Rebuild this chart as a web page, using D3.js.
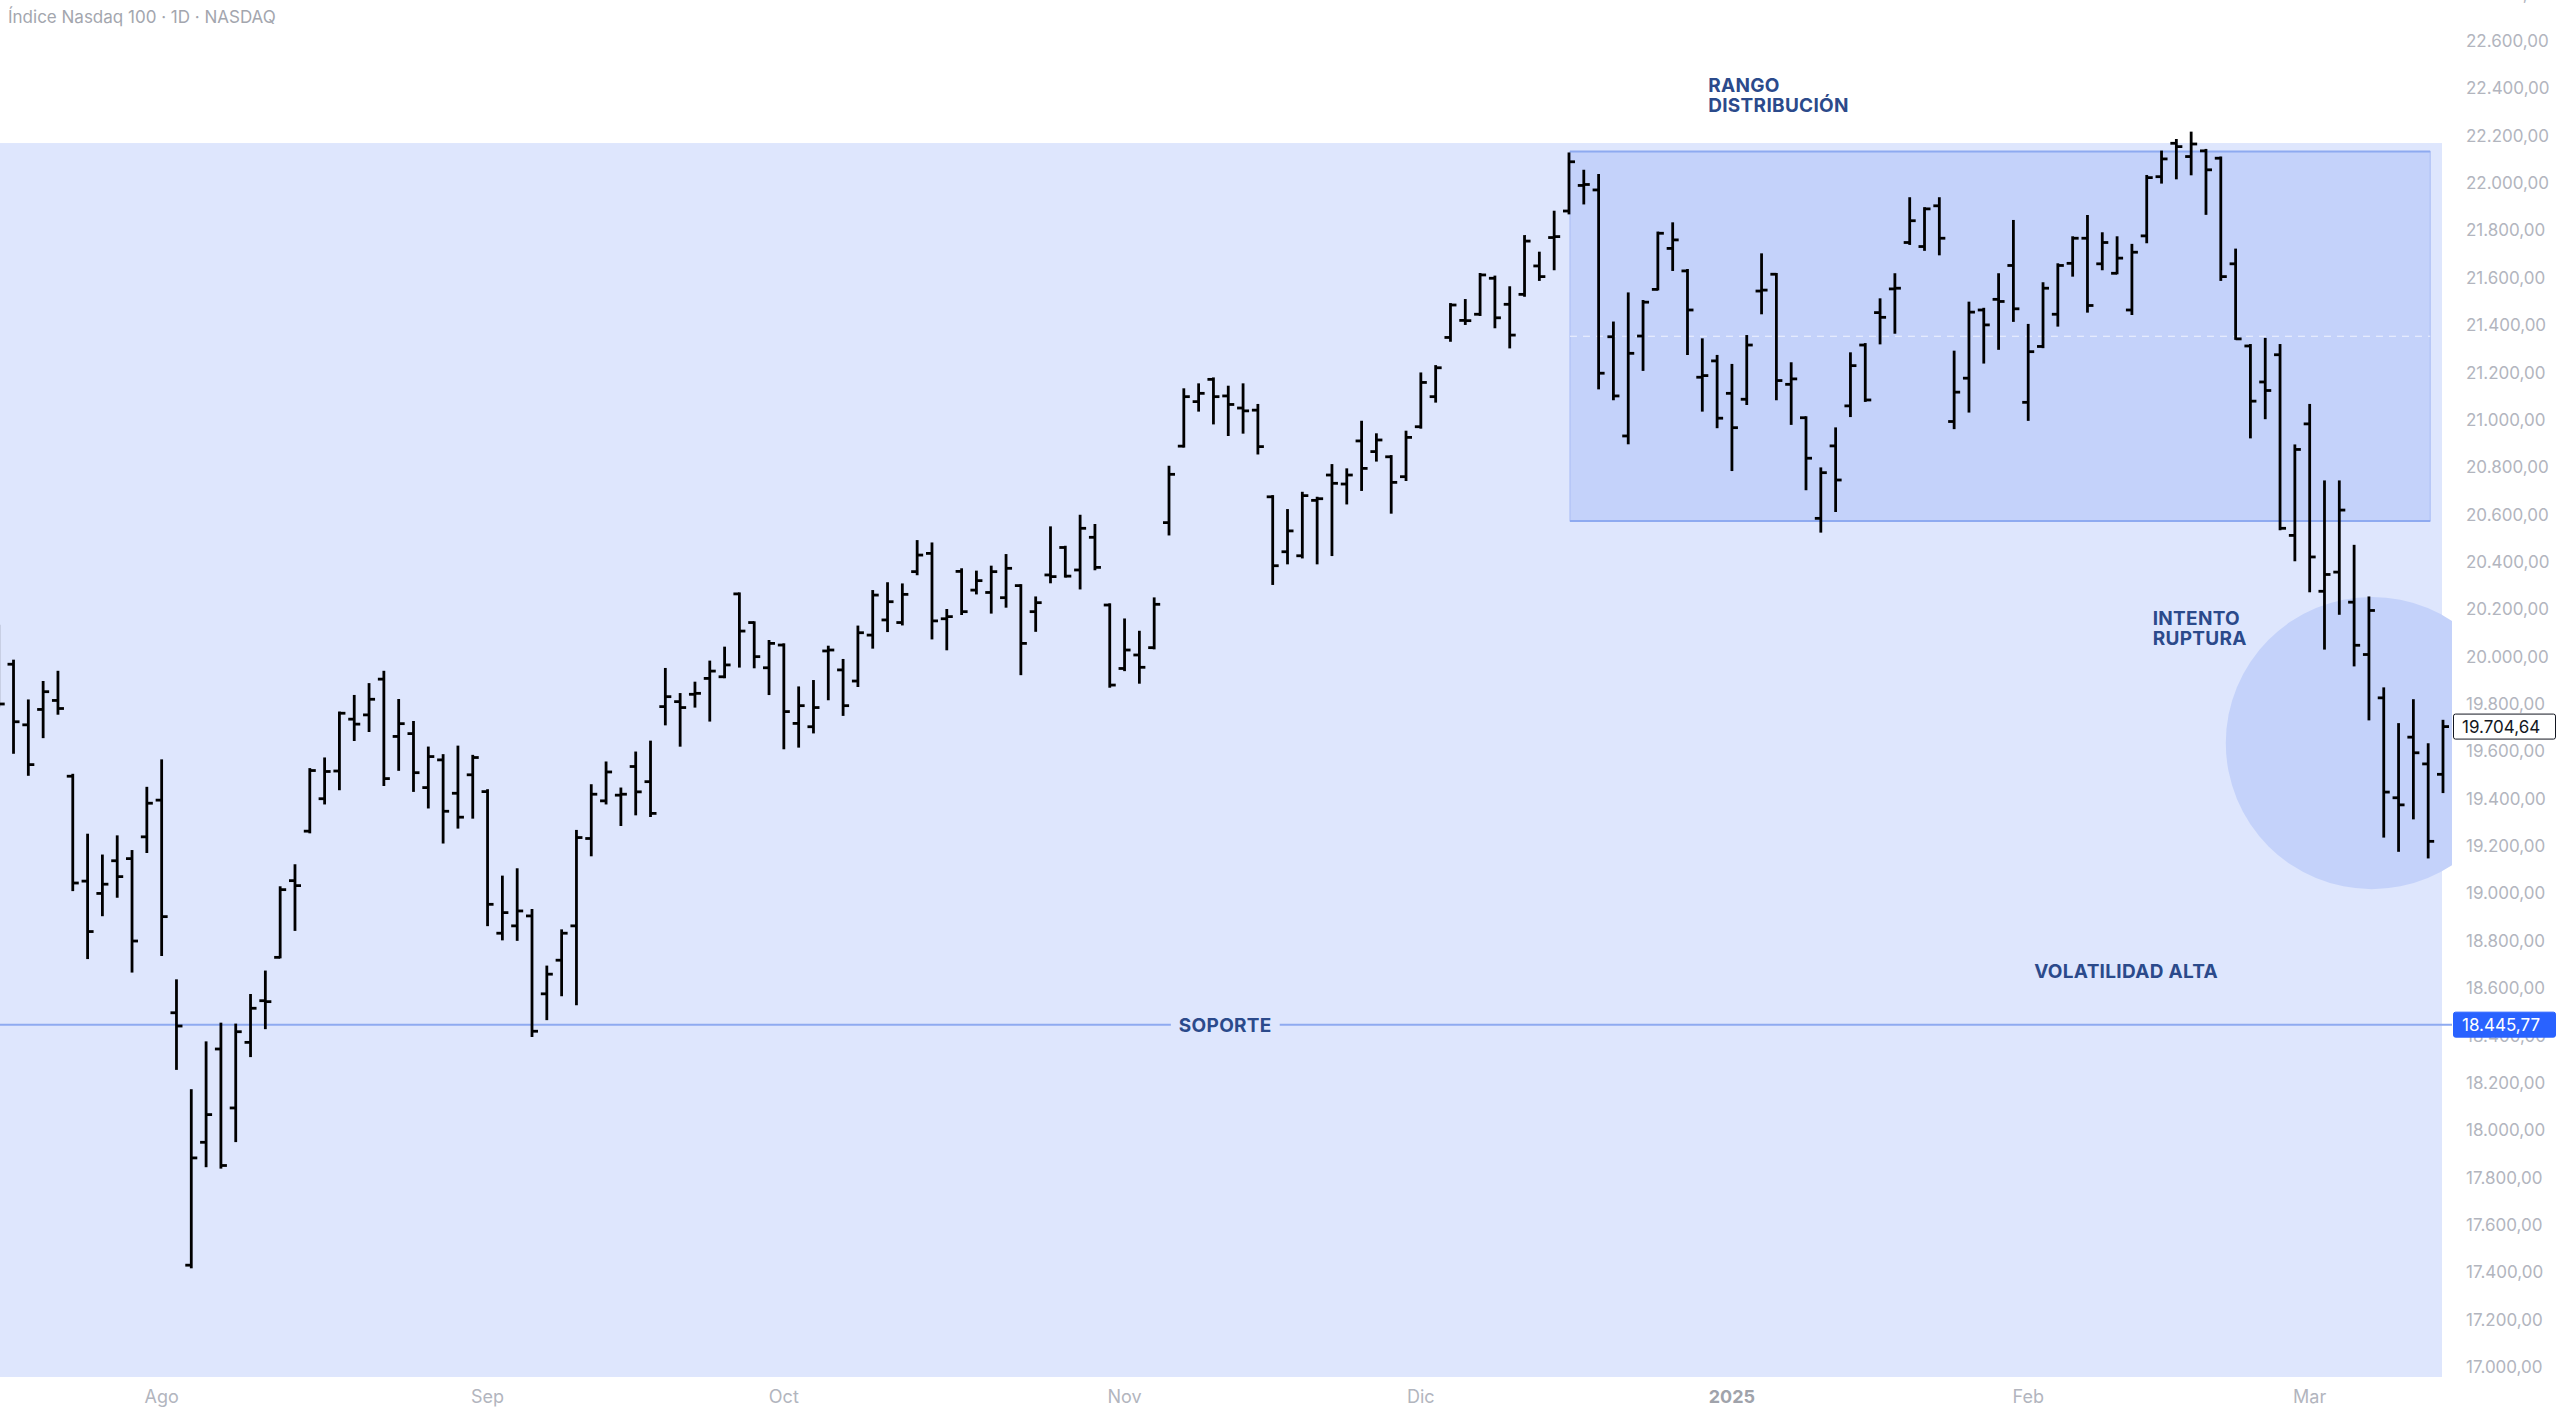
<!DOCTYPE html>
<html>
<head>
<meta charset="utf-8">
<script src="https://cdn.jsdelivr.net/npm/d3@7"></script>
<style>
  html, body { margin: 0; padding: 0; background: #fff; }
  svg { display: block; font-family: Inter, "Noto Sans", sans-serif; }
</style>
</head>
<body>
<div id="chart"></div>
<script>
// Daily sessions shown on the chart (one OHLC bar each)
const dates = [
  "2024-07-17","2024-07-18","2024-07-19","2024-07-22","2024-07-23","2024-07-24","2024-07-25","2024-07-26","2024-07-29","2024-07-30","2024-07-31",
  "2024-08-01","2024-08-02","2024-08-05","2024-08-06","2024-08-07","2024-08-08","2024-08-09","2024-08-12","2024-08-13","2024-08-14","2024-08-15","2024-08-16","2024-08-19","2024-08-20","2024-08-21","2024-08-22","2024-08-23","2024-08-26","2024-08-27","2024-08-28","2024-08-29","2024-08-30",
  "2024-09-03","2024-09-04","2024-09-05","2024-09-06","2024-09-09","2024-09-10","2024-09-11","2024-09-12","2024-09-13","2024-09-16","2024-09-17","2024-09-18","2024-09-19","2024-09-20","2024-09-23","2024-09-24","2024-09-25","2024-09-26","2024-09-27","2024-09-30",
  "2024-10-01","2024-10-02","2024-10-03","2024-10-04","2024-10-07","2024-10-08","2024-10-09","2024-10-10","2024-10-11","2024-10-14","2024-10-15","2024-10-16","2024-10-17","2024-10-18","2024-10-21","2024-10-22","2024-10-23","2024-10-24","2024-10-25","2024-10-28","2024-10-29","2024-10-30","2024-10-31",
  "2024-11-01","2024-11-04","2024-11-05","2024-11-06","2024-11-07","2024-11-08","2024-11-11","2024-11-12","2024-11-13","2024-11-14","2024-11-15","2024-11-18","2024-11-19","2024-11-20","2024-11-21","2024-11-22","2024-11-25","2024-11-26","2024-11-27","2024-11-29",
  "2024-12-02","2024-12-03","2024-12-04","2024-12-05","2024-12-06","2024-12-09","2024-12-10","2024-12-11","2024-12-12","2024-12-13","2024-12-16","2024-12-17","2024-12-18","2024-12-19","2024-12-20","2024-12-23","2024-12-24","2024-12-26","2024-12-27","2024-12-30","2024-12-31",
  "2025-01-02","2025-01-03","2025-01-06","2025-01-07","2025-01-08","2025-01-10","2025-01-13","2025-01-14","2025-01-15","2025-01-16","2025-01-17","2025-01-21","2025-01-22","2025-01-23","2025-01-24","2025-01-27","2025-01-28","2025-01-29","2025-01-30","2025-01-31",
  "2025-02-03","2025-02-04","2025-02-05","2025-02-06","2025-02-07","2025-02-10","2025-02-11","2025-02-12","2025-02-13","2025-02-14","2025-02-18","2025-02-19","2025-02-20","2025-02-21","2025-02-24","2025-02-25","2025-02-26","2025-02-27","2025-02-28",
  "2025-03-03","2025-03-04","2025-03-05","2025-03-06","2025-03-07","2025-03-10","2025-03-11","2025-03-12","2025-03-13","2025-03-14"
];

const open = [
  20110,19968,19712,19777,19815,19495,19052,19000,19138,19147,19239,
  19394,18496,17430,17949,18343,18094,18371,18547,18730,19054,19263,19400,19517,19736,19754,19905,19663,19675,19447,19564,19423,19501,
  19430,18832,18863,18905,18576,18718,18863,19232,19391,19415,19536,19472,19789,19810,19841,19908,19915,20265,20144,19953,
  20049,19718,19704,20024,19944,19897,20091,20155,20144,20359,20436,20160,20360,20281,20271,20249,20300,20190,20345,20461,20366,20504,20218,
  19950,20007,20038,20566,20889,21077,21171,21101,21050,21041,20675,20443,20426,20660,20767,20729,20911,20866,20844,20760,
  20971,21098,21348,21420,21446,21598,21488,21530,21650,21770,21882,21990,21971,21351,20932,21354,21551,21724,21629,21180,21249,
  21112,21087,21544,21615,21150,21009,20584,20890,21059,21316,21453,21553,21749,21732,21904,20993,21176,21464,21509,21652,
  21074,21310,21446,21661,21767,21659,21619,21464,21777,22027,22168,22112,22136,22105,21659,21312,21160,21275,20512,
  20983,20276,20357,20230,20009,19826,19404,19660,19547,19503
];

const high = [
  20130,19983,19815,19893,19936,19501,19248,19160,19241,19179,19446,
  19562,18633,18169,18371,18450,18446,18571,18670,19026,19119,19525,19570,19764,19834,19884,19936,19817,19724,19616,19584,19620,19581,
  19436,19071,19102,18930,18691,18844,19264,19457,19553,19443,19595,19641,19948,19842,19890,19979,20038,20267,20145,20066,
  20052,19870,19897,20042,19986,20127,20277,20310,20305,20488,20478,20197,20369,20359,20380,20429,20302,20250,20546,20464,20595,20556,20221,
  20157,20105,20246,20802,21129,21150,21175,21140,21150,21063,20678,20619,20692,20671,20809,20791,20992,20939,20847,20950,
  21196,21227,21489,21506,21616,21605,21560,21776,21706,21879,22125,22052,22034,21411,21534,21502,21791,21830,21633,21340,21270,
  21232,21354,21699,21616,21239,21011,20795,20964,21281,21320,21509,21615,21936,21894,21936,21288,21495,21469,21615,21840,
  21401,21577,21657,21771,21861,21788,21771,21739,22030,22133,22182,22213,22140,22108,21719,21316,21342,21316,20892,
  21063,20740,20740,20468,20250,19866,19715,19816,19630,19729
];

const low = [
  19790,19594,19501,19660,19759,19014,18727,18908,18986,18670,19175,
  18740,18259,17421,17848,17842,17954,18313,18431,18730,18846,19258,19380,19440,19648,19686,19458,19522,19433,19363,19215,19278,19320,
  18866,18806,18804,18398,18469,18570,18532,19161,19380,19289,19334,19327,19714,19624,19789,19730,19913,19958,19955,19842,
  19613,19620,19680,19820,19754,19876,20038,20108,20136,20348,20077,20031,20180,20267,20186,20211,19926,20109,20314,20338,20288,20369,19873,
  19943,19890,20035,20516,20887,21039,20985,20936,20946,20858,20307,20394,20419,20394,20429,20647,20704,20828,20608,20746,
  20967,21077,21334,21405,21443,21391,21306,21524,21591,21636,21872,21914,21133,21087,20901,21211,21551,21633,21278,21039,20969,
  20788,21067,21450,21087,20983,20707,20528,20615,21016,21080,21323,21368,21743,21718,21699,20965,21035,21242,21300,21418,
  21000,21307,21398,21609,21457,21636,21619,21447,21750,22002,22020,22037,21870,21591,21342,20926,21007,20538,20407,
  20276,20034,20181,19963,19735,19240,19180,19317,19152,19428
];

const close = [
  19800,19725,19544,19852,19781,19044,18839,19039,19071,18799,19381,
  18902,18440,17883,18066,17851,18416,18515,18543,19016,19033,19519,19515,19761,19715,19820,19485,19717,19510,19578,19347,19322,19574,
  18954,18919,18926,18418,18659,18832,19236,19419,19513,19419,19429,19338,19831,19785,19845,19939,19965,20108,20000,20056,
  19768,19793,19785,20028,19793,20101,20260,20232,20263,20429,20151,20169,20190,20321,20359,20373,20056,20228,20338,20340,20542,20377,19880,
  20028,19955,20221,20770,21098,21112,21098,21065,21038,20887,20384,20531,20680,20667,20732,20767,20795,20915,20736,20926,
  21158,21220,21485,21419,21612,21431,21358,21755,21605,21774,22090,21994,21197,21101,21281,21497,21788,21760,21464,21187,21007,
  20967,21316,21548,21166,21173,20838,20777,20746,21229,21084,21433,21556,21841,21891,21767,21117,21455,21401,21500,21469,
  21288,21556,21652,21767,21483,21749,21683,21708,22023,22102,22154,22165,22056,21605,21342,21079,21124,20542,20875,
  20421,20347,20619,20048,20195,19428,19374,19594,19220,19704.64
];

// Price axis
const priceTicks = [17000,17200,17400,17600,17800,18000,18200,18400,18600,18800,19000,19200,19400,19600,19800,20000,20200,20400,20600,20800,21000,21200,21400,21600,21800,22000,22200,22400,22600,22800];
const priceMin = 17000;
const priceMax = 22600;

// Time axis
const monthTickDates  = ["2024-08-01","2024-09-03","2024-10-01","2024-11-01","2024-12-02","2025-01-02","2025-02-03","2025-03-03"];
const monthTickLabels = ["Ago","Sep","Oct","Nov","Dic","2025","Feb","Mar"];
const monthTickBold   = [false,false,false,false,false,true,false,false];

// Drawings
const supportLevel = 18445.77;
const lastPrice = 19704.64;
const rangeTop = 22133;
const rangeBottom = 20573;
const rangeStartDate = "2024-12-16";
const rangeEndDate = "2025-03-13";
const zoneTop = 22169;
const circleDate = "2025-03-07";
const circlePrice = 19635;
const circleRadiusPts = 617;

const annotationLines  = [["RANGO","DISTRIBUCIÓN"], ["INTENTO","RUPTURA"], ["VOLATILIDAD ALTA"]];
const annotationDates  = ["2024-12-30", "2025-02-13", "2025-02-03"];
const annotationPrices = [22385, 20134, 18643];
const supportLabel = "SOPORTE";
const supportLabelDate = "2024-11-11";

const title = "Índice Nasdaq 100 · 1D · NASDAQ";

// ---------------------------------------------------------------
const width = 2560, height = 1411;
const plotRight = 2452, plotBottom = 1377;

const es = d3.formatLocale({ decimal: ",", thousands: ".", grouping: [3], currency: ["", ""] });
const fmt = es.format(",.2f");

const x = d3.scalePoint().domain(dates).range([-1.3, 2443]);
const step = x.step();
const y = d3.scaleLinear().domain([priceMin, priceMax]).range([1367, 41]);

const svg = d3.select("#chart").append("svg")
  .attr("width", width)
  .attr("height", height);

svg.append("rect").attr("width", width).attr("height", height).attr("fill", "#fff");

svg.append("clipPath").attr("id", "plot-clip")
  .append("rect").attr("x", 0).attr("y", 0).attr("width", plotRight).attr("height", plotBottom);

const plot = svg.append("g").attr("clip-path", "url(#plot-clip)");

// Big light zone
plot.append("rect")
  .attr("x", x(dates[0]) - 30)
  .attr("y", y(zoneTop))
  .attr("width", x(dates[dates.length - 1]) - 1 - (x(dates[0]) - 30))
  .attr("height", plotBottom - y(zoneTop) + 20)
  .attr("fill", "#dee6fd");

// Distribution range box
const rx0 = x(rangeStartDate) + 1, rx1 = x(rangeEndDate) + 2;
plot.append("rect")
  .attr("x", rx0).attr("y", y(rangeTop))
  .attr("width", rx1 - rx0).attr("height", y(rangeBottom) - y(rangeTop))
  .attr("fill", "#c4d2fa")
  .attr("stroke", "#a9bdf5").attr("stroke-width", 1);
[rangeTop, rangeBottom].forEach(p => {
  plot.append("line")
    .attr("x1", rx0).attr("x2", rx1)
    .attr("y1", y(p)).attr("y2", y(p))
    .attr("stroke", "#8eaaf0").attr("stroke-width", 2);
});
plot.append("line")
  .attr("x1", rx0).attr("x2", rx1)
  .attr("y1", y((rangeTop + rangeBottom) / 2)).attr("y2", y((rangeTop + rangeBottom) / 2))
  .attr("stroke", "#eef2ff").attr("stroke-width", 1.2)
  .attr("stroke-dasharray", "7,6");

// Breakout attempt circle
plot.append("circle")
  .attr("cx", x(circleDate) + 0.2 * step)
  .attr("cy", y(circlePrice))
  .attr("r", y(circlePrice - circleRadiusPts) - y(circlePrice))
  .attr("fill", "#c4d2fa");

// Support line
plot.append("line")
  .attr("x1", 0).attr("x2", plotRight)
  .attr("y1", y(supportLevel)).attr("y2", y(supportLevel))
  .attr("stroke", "#8eaaf0").attr("stroke-width", 2);

const supText = plot.append("text")
  .attr("x", x(supportLabelDate) + 0.8 * step)
  .attr("y", y(supportLevel) + 7)
  .attr("text-anchor", "middle")
  .attr("font-size", 19).attr("font-weight", 700)
  .attr("letter-spacing", 0.3)
  .attr("fill", "#2b4a8b")
  .text(supportLabel);
const sb = supText.node().getBBox();
plot.insert("rect", "text")
  .attr("x", sb.x - 8).attr("y", sb.y - 1)
  .attr("width", sb.width + 16).attr("height", sb.height + 2)
  .attr("fill", "#dee6fd");

// OHLC bars
const bars = plot.append("g").attr("stroke", "#000").attr("stroke-width", 2.8);
dates.forEach((d, i) => {
  const cx = x(d);
  const yh = y(high[i]), yl = y(low[i]);
  bars.append("line")
    .attr("x1", cx).attr("x2", cx)
    .attr("y1", yh - 1).attr("y2", Math.max(yl + 1, yh + 2));
  bars.append("line")
    .attr("x1", cx - 6).attr("x2", cx)
    .attr("y1", y(open[i])).attr("y2", y(open[i]));
  bars.append("line")
    .attr("x1", cx).attr("x2", cx + 6)
    .attr("y1", y(close[i])).attr("y2", y(close[i]));
});

// Annotations
annotationLines.forEach((lines, k) => {
  const ax = x(annotationDates[k]) + 0.4 * step;
  const t = plot.append("text")
    .attr("x", ax)
    .attr("y", y(annotationPrices[k]))
    .attr("font-size", 19).attr("font-weight", 700)
    .attr("letter-spacing", 0.3)
    .attr("fill", "#2b4a8b");
  lines.forEach((ln, j) => {
    t.append("tspan")
      .attr("x", ax)
      .attr("dy", j === 0 ? 0 : 20)
      .text(ln);
  });
});

// Price axis labels
const axisG = svg.append("g");
priceTicks.forEach(p => {
  axisG.append("text")
    .attr("x", 2466).attr("y", y(p) + 6)
    .attr("font-size", 17)
    .attr("fill", "#b2b5be")
    .text(fmt(p));
});

// Price markers on the axis
function priceBox(p, fill, stroke, color) {
  const cy = y(p);
  axisG.append("rect")
    .attr("x", 2453.5).attr("y", cy - 12.5)
    .attr("width", 102).attr("height", 25).attr("rx", 2)
    .attr("fill", fill).attr("stroke", stroke).attr("stroke-width", 1);
  axisG.append("text")
    .attr("x", 2462).attr("y", cy + 6)
    .attr("font-size", 17)
    .attr("fill", color)
    .text(fmt(p));
}
priceBox(lastPrice, "#fff", "#131722", "#131722");
priceBox(supportLevel, "#2962ff", "#2962ff", "#fff");

// Time axis labels
monthTickDates.forEach((d, i) => {
  svg.append("text")
    .attr("x", x(d)).attr("y", 1403)
    .attr("text-anchor", "middle")
    .attr("font-size", 18)
    .attr("font-weight", monthTickBold[i] ? 700 : 400)
    .attr("fill", monthTickBold[i] ? "#a0a3ab" : "#b2b5be")
    .text(monthTickLabels[i]);
});

// Title
svg.append("text")
  .attr("x", 8).attr("y", 23)
  .attr("font-size", 17)
  .attr("fill", "#a3a6ae")
  .text(title);
</script>
</body>
</html>
